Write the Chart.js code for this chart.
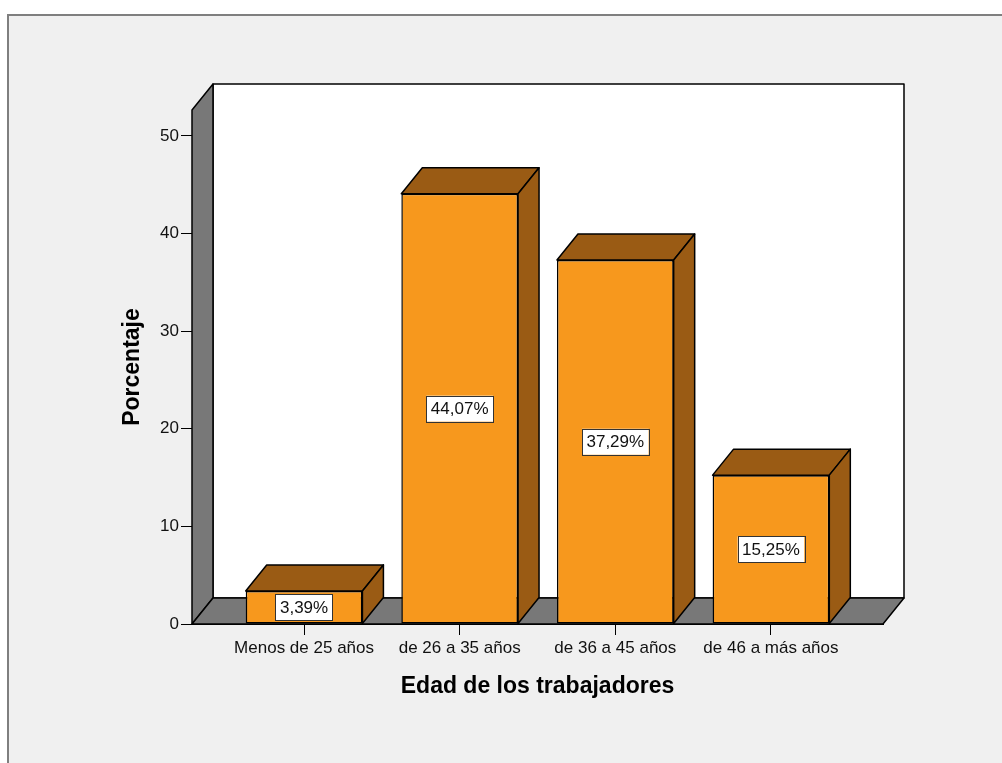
<!DOCTYPE html>
<html>
<head>
<meta charset="utf-8">
<script src="https://cdn.jsdelivr.net/npm/chart.js@4.4.0/dist/chart.umd.min.js"></script>
<style>
body { margin: 0; background: #fff; }
#wrap { width: 1002px; height: 763px; }
</style>
</head>
<body>
<div id="wrap"><canvas id="barrasEdad" width="1002" height="763"></canvas></div>
<script>
const categorias = ['Menos de 25 años', 'de 26 a 35 años', 'de 36 a 45 años', 'de 46 a más años'];
const porcentajes = [3.39, 44.07, 37.29, 15.25];
const etiquetas = ['3,39%', '44,07%', '37,29%', '15,25%'];
const ticksY = [0, 10, 20, 30, 40, 50];

const fuente = '"Liberation Sans", Arial, sans-serif';
const naranja = '#F7981D';
const cafe = '#9A5B14';
const gris = '#787878';
const prof = { dx: 21, dy: 26 }; // profundidad del efecto 3D

function poly(ctx, pts, relleno) {
    ctx.beginPath();
    ctx.moveTo(pts[0][0], pts[0][1]);
    for (let i = 1; i < pts.length; i++) ctx.lineTo(pts[i][0], pts[i][1]);
    ctx.closePath();
    ctx.fillStyle = relleno;
    ctx.fill();
    ctx.stroke();
}

const efecto3d = {
    id: 'efecto3d',
    beforeDraw(chart) {
        const ctx = chart.ctx;
        ctx.save();
        ctx.fillStyle = '#fff';
        ctx.fillRect(0, 0, chart.width, chart.height);
        ctx.fillStyle = '#f0f0f0';
        ctx.fillRect(8, 15, chart.width, chart.height);
        ctx.strokeStyle = '#7f7f7f';
        ctx.lineWidth = 2;
        ctx.beginPath();
        ctx.moveTo(8, chart.height);
        ctx.lineTo(8, 15);
        ctx.lineTo(chart.width, 15);
        ctx.stroke();
        ctx.restore();
    },
    beforeDatasetsDraw(chart) {
        const { left, right, top, bottom } = chart.chartArea;
        const { dx, dy } = prof;
        const ctx = chart.ctx;
        ctx.save();
        ctx.lineWidth = 1.5;
        ctx.strokeStyle = '#000';
        ctx.lineJoin = 'round';
        // pared del fondo, pared izquierda y piso
        poly(ctx, [[left + dx, top - dy], [right + dx, top - dy], [right + dx, bottom - dy], [left + dx, bottom - dy]], '#fff');
        poly(ctx, [[left, top], [left + dx, top - dy], [left + dx, bottom - dy], [left, bottom]], gris);
        poly(ctx, [[left, bottom], [left + dx, bottom - dy], [right + dx, bottom - dy], [right, bottom]], gris);
        // caras superior y lateral de cada barra
        chart.getDatasetMeta(0).data.forEach(bar => {
            const x0 = bar.x - bar.width / 2;
            const x1 = bar.x + bar.width / 2;
            poly(ctx, [[x0, bar.y], [x0 + dx, bar.y - dy], [x1 + dx, bar.y - dy], [x1, bar.y]], cafe);
            poly(ctx, [[x1, bar.y], [x1 + dx, bar.y - dy], [x1 + dx, bar.base - dy], [x1, bar.base]], cafe);
        });
        ctx.restore();
    },
    afterDatasetsDraw(chart) {
        const ctx = chart.ctx;
        ctx.save();
        ctx.font = '17px ' + fuente;
        ctx.textAlign = 'center';
        ctx.textBaseline = 'middle';
        chart.getDatasetMeta(0).data.forEach((bar, i) => {
            const t = etiquetas[i];
            const w = ctx.measureText(t).width + 9;
            const h = 26;
            const cy = (bar.y + bar.base) / 2;
            ctx.fillStyle = '#fff';
            ctx.fillRect(bar.x - w / 2, cy - h / 2, w, h);
            ctx.strokeStyle = '#333';
            ctx.lineWidth = 1;
            ctx.strokeRect(Math.round(bar.x - w / 2) + 0.5, Math.round(cy - h / 2) + 0.5, Math.round(w), h);
            ctx.fillStyle = '#111';
            ctx.fillText(t, bar.x, cy + 1);
        });
        ctx.restore();
    }
};

const grafica = document.getElementById('barrasEdad');

const myChart = new Chart(grafica, {
    type: 'bar',
    data: {
        datasets: [{
            label: 'Porcentaje',
            data: porcentajes.map((v, i) => ({ x: i, y: v })),
            backgroundColor: naranja,
            borderColor: '#000',
            borderWidth: 1.5,
            borderSkipped: false,
            barPercentage: 0.75,
            categoryPercentage: 1
        }]
    },
    options: {
        responsive: false,
        animation: false,
        devicePixelRatio: 1,
        layout: { padding: { left: 119, right: 119, top: 110, bottom: 63 } },
        plugins: {
            legend: { display: false },
            tooltip: { enabled: false }
        },
        scales: {
            x: {
                type: 'linear',
                min: -0.72,
                max: 3.72,
                offset: false,
                afterBuildTicks: s => { s.ticks = categorias.map((_, i) => ({ value: i })); },
                afterFit: s => { s.height = 76; },
                ticks: {
                    callback: v => categorias[v],
                    color: '#111',
                    font: { family: fuente, size: 17 },
                    padding: 3,
                    maxRotation: 0,
                    autoSkip: false
                },
                grid: { offset: false, drawOnChartArea: false, tickLength: 11, color: '#000' },
                border: { color: '#000' },
                title: {
                    display: true,
                    text: 'Edad de los trabajadores',
                    color: '#000',
                    font: { family: fuente, size: 23, weight: 'bold' },
                    padding: 0
                }
            },
            y: {
                min: 0,
                max: 52.66,
                afterBuildTicks: s => { s.ticks = ticksY.map(v => ({ value: v })); },
                afterFit: s => { s.width = 73; },
                ticks: {
                    color: '#111',
                    font: { family: fuente, size: 17 },
                    padding: 2
                },
                grid: { drawOnChartArea: false, tickLength: 11, color: '#000' },
                border: { color: '#000' },
                title: {
                    display: true,
                    text: 'Porcentaje',
                    color: '#000',
                    font: { family: fuente, size: 23, weight: 'bold' },
                    padding: 0
                }
            }
        }
    },
    plugins: [efecto3d]
});
</script>
</body>
</html>
